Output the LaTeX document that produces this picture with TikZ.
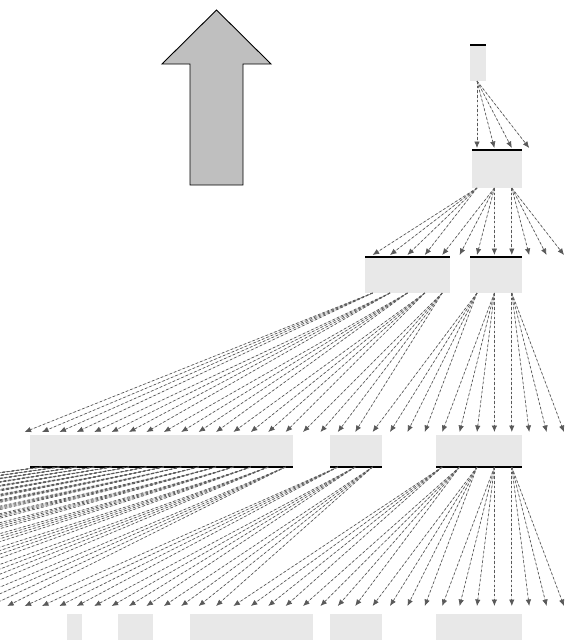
\documentclass[tikz,border=0pt]{standalone}
\usetikzlibrary{arrows.meta}

\begin{document}
\begin{tikzpicture}[
  x=1pt, y=-1pt,
  >={Latex[length=6.5pt,width=5.5pt]},
  cellbox/.style={rectangle, fill=black!9, draw=none, inner sep=0pt,
                  outer sep=0pt, anchor=north west},
  rim/.style={line width=1.4pt, black},
  link/.style={->, draw=black!65, fill=black!65, line width=0.7pt,
               dash pattern=on 2.5pt off 2.2pt},
  upshape/.style={draw=black, fill=black!25, line width=0.9pt}
]

\def\cellR{564}
\def\cellW{17.4}

\path[use as bounding box] (0,0) rectangle (567,640);
\clip (0,0) rectangle (567,640);

% direction arrow
\draw[upshape] (216.5,10) -- (271,64) -- (243,64) -- (243,185) -- (190,185)
               -- (190,64) -- (162,64) -- cycle;

% levels
\node[cellbox, minimum width=16pt,  minimum height=36pt] (lv0)  at (470,45)  {};
\node[cellbox, minimum width=50pt,  minimum height=38pt] (lv1)  at (472,150) {};
\node[cellbox, minimum width=85pt,  minimum height=36pt] (lv2a) at (365,257) {};
\node[cellbox, minimum width=52pt,  minimum height=36pt] (lv2b) at (470,257) {};
\node[cellbox, minimum width=263pt, minimum height=32pt] (lv3a) at (30,435)  {};
\node[cellbox, minimum width=52pt,  minimum height=32pt] (lv3b) at (330,435) {};
\node[cellbox, minimum width=86pt,  minimum height=32pt] (lv3c) at (436,435) {};
\node[cellbox, minimum width=15pt,  minimum height=30pt] (lv4a) at (67,614)  {};
\node[cellbox, minimum width=35pt,  minimum height=30pt] (lv4b) at (118,614) {};
\node[cellbox, minimum width=123pt, minimum height=30pt] (lv4c) at (190,614) {};
\node[cellbox, minimum width=52pt,  minimum height=30pt] (lv4d) at (330,614) {};
\node[cellbox, minimum width=86pt,  minimum height=30pt] (lv4e) at (436,614) {};

\foreach \b in {lv0,lv1,lv2a,lv2b}
  \draw[rim] (\b.north west) -- (\b.north east);
\foreach \b in {lv3a,lv3b,lv3c}
  \draw[rim] (\b.south west) -- (\b.south east);

% arrow targets
\foreach \j in {0,...,3}  \coordinate (t1-\j) at ({\cellR-\cellW*(5-\j)}, 148);
\foreach \j in {0,...,11} \coordinate (t2-\j) at ({\cellR-\cellW*(11-\j)}, 255);
\foreach \j in {0,...,31} \coordinate (t3-\j) at ({\cellR-\cellW*(31-\j)}, 432);
\foreach \j in {0,...,91} \coordinate (t4-\j) at ({\cellR-\cellW*(91-\j)}, 606);

% arrow sources
\coordinate (s0-0) at ({\cellR-\cellW*5}, 81);
\foreach \m [count=\i from 0] in {5,4,3}
  \coordinate (s1-\i) at ({\cellR-\cellW*\m}, 188);
\foreach \m [count=\i from 0] in {11,10,9,8,7,5,4,3}
  \coordinate (s2-\i) at ({\cellR-\cellW*\m}, 293);
\foreach \m [count=\i from 0] in {30,29,28,27,26,25,24,23,22,21,20,19,18,17,16,
                                  13,12,11,7,6,5,4,3}
  \coordinate (s3-\i) at ({\cellR-\cellW*\m}, 467);

% links, four per source
\foreach \k in {0,...,3} \draw[link] (s0-0) -- (t1-\k);
\foreach \i in {0,...,2} \foreach \k in {0,...,3}
  {\pgfmathtruncatemacro\n{4*\i+\k} \draw[link] (s1-\i) -- (t2-\n);}
\foreach \i in {0,...,7} \foreach \k in {0,...,3}
  {\pgfmathtruncatemacro\n{4*\i+\k} \draw[link] (s2-\i) -- (t3-\n);}
\foreach \i in {0,...,22} \foreach \k in {0,...,3}
  {\pgfmathtruncatemacro\n{4*\i+\k} \draw[link] (s3-\i) -- (t4-\n);}

\end{tikzpicture}
\end{document}
